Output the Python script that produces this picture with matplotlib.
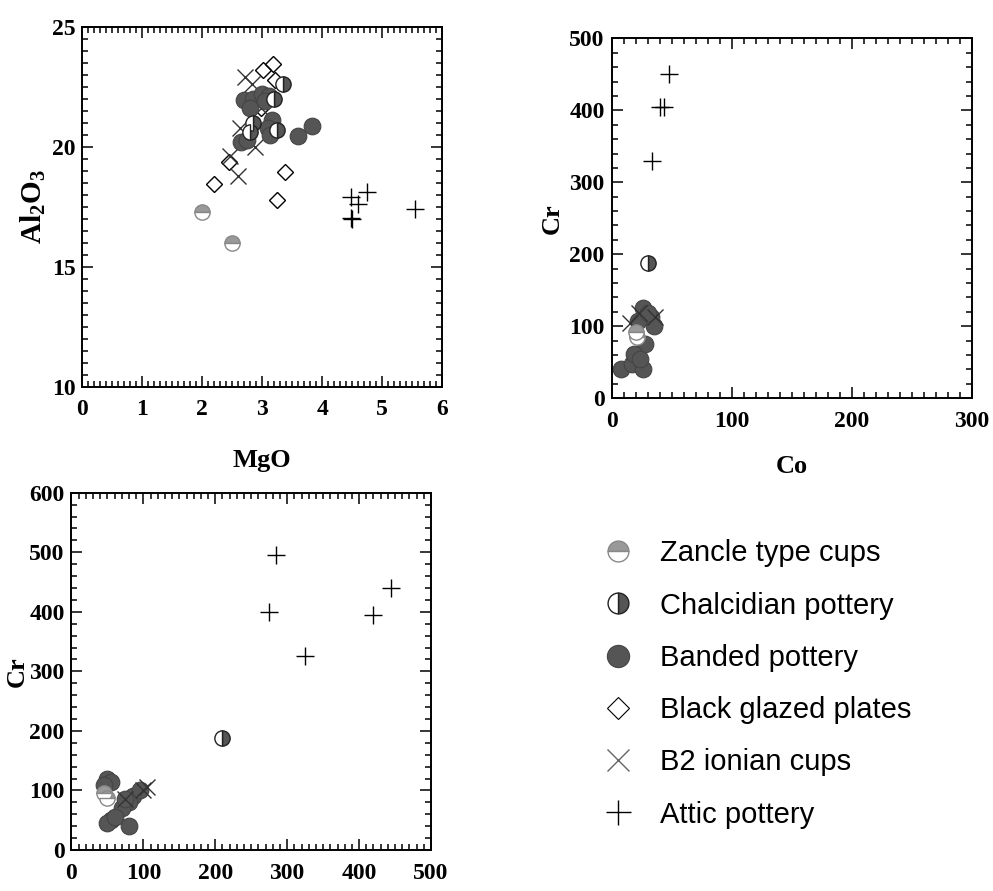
import numpy as np
import matplotlib
matplotlib.use("Agg")
import matplotlib.pyplot as plt
from matplotlib.ticker import MultipleLocator
from matplotlib.lines import Line2D

plt.rcParams['font.family'] = ['Liberation Serif', 'DejaVu Serif']
plt.rcParams['mathtext.fontset'] = 'custom'
plt.rcParams['mathtext.rm'] = 'Liberation Serif:bold'
plt.rcParams['mathtext.bf'] = 'Liberation Serif:bold'
plt.rcParams['mathtext.default'] = 'bf'

# Panel A: MgO vs Al2O3
zancle_mgo = [2.0, 2.5]
zancle_al = [17.3, 16.0]
chalc_mgo = [3.35, 3.2, 3.25, 2.85, 2.8]
chalc_al = [22.6, 22.0, 20.7, 21.0, 20.6]
banded_mgo = [2.7, 2.85, 3.0, 3.12, 2.65, 2.75, 3.17, 3.1, 3.13, 3.6, 3.83, 2.8, 3.05]
banded_al = [21.95, 22.0, 22.2, 22.1, 20.2, 20.3, 21.1, 20.8, 20.5, 20.45, 20.85, 21.6, 21.9]
plates_mgo = [3.02, 3.18, 3.22, 2.2, 2.44, 3.38, 3.24, 2.98]
plates_al = [23.2, 23.45, 22.8, 18.45, 19.35, 18.95, 17.8, 21.6]
b2_mgo = [2.72, 2.83, 2.63, 2.47, 2.6, 2.88, 2.98]
b2_al = [22.9, 22.6, 20.8, 19.6, 18.8, 20.0, 21.6]
attic_mgo = [4.48, 4.6, 4.75, 4.48, 4.5, 5.55]
attic_al = [17.9, 17.6, 18.1, 17.05, 17.0, 17.4]

# Panel B: Co vs Cr
zancle_co = [21, 20]
zancle_cr = [85, 92]
chalc_co = [30]
chalc_cr = [188]
banded_co = [26, 33, 35, 28, 8, 17, 26, 19, 22, 30, 24]
banded_cr = [125, 113, 100, 76, 40, 48, 40, 62, 108, 118, 55]
b2_co = [15, 36, 23]
b2_cr = [104, 113, 118]
attic_co = [48, 40, 44, 34]
attic_cr = [450, 405, 405, 330]

# Panel C: ? vs Cr
zancle_x = [45, 50]
zancle_y = [95, 88]
chalc_x = [210]
chalc_y = [188]
banded_x = [50, 55, 45, 85, 95, 80, 70, 55, 50, 60, 80, 75]
banded_y = [120, 115, 110, 90, 100, 80, 70, 50, 45, 55, 40, 85]
b2_x = [105, 100, 75]
b2_y = [105, 100, 85]
attic_x = [285, 275, 325, 420, 445]
attic_y = [495, 400, 325, 395, 440]

labels = ['Zancle type cups', 'Chalcidian pottery', 'Banded pottery',
          'Black glazed plates', 'B2 ionian cups', 'Attic pottery']

dark = '#555555'
styles = {
    'zancle': dict(marker='o', ms=11, fillstyle='top', mfc='#999999',
                   mfcalt='white', mec='#888888', mew=1.0, ls='none'),
    'chalc': dict(marker='o', ms=11, fillstyle='right', mfc=dark,
                  mfcalt='white', mec='#222222', mew=1.0, ls='none'),
    'banded': dict(marker='o', ms=12, mfc=dark, mec='#444444', mew=0.8, ls='none'),
    'plates': dict(marker='D', ms=8, mfc='none', mec='black', mew=1.0, ls='none'),
    'b2': dict(marker='x', ms=12, mec='#333333', mew=1.0, ls='none'),
    'attic': dict(marker='+', ms=13, mec='black', mew=1.0, ls='none'),
}

fig = plt.figure(figsize=(9.93, 8.91), dpi=100)


def style_axes(ax, xmaj, xmin, ymaj, ymin):
    ax.xaxis.set_major_locator(MultipleLocator(xmaj))
    ax.xaxis.set_minor_locator(MultipleLocator(xmin))
    ax.yaxis.set_major_locator(MultipleLocator(ymaj))
    ax.yaxis.set_minor_locator(MultipleLocator(ymin))
    ax.tick_params(which='both', direction='in', top=True, right=True,
                   labelsize=17, width=1.1)
    ax.tick_params(which='major', length=8)
    ax.tick_params(which='minor', length=4)
    ax.tick_params(axis='x', which='major', pad=9)
    ax.tick_params(axis='y', which='major', pad=5)
    for lab in ax.get_xticklabels() + ax.get_yticklabels():
        lab.set_fontweight('bold')
    for s in ax.spines.values():
        s.set_linewidth(1.4)


ax1 = fig.add_axes([0.083, 0.566, 0.362, 0.404])
ax1.plot(plates_mgo, plates_al, **styles['plates'])
ax1.plot(b2_mgo, b2_al, **styles['b2'])
ax1.plot(banded_mgo, banded_al, **styles['banded'])
ax1.plot(chalc_mgo, chalc_al, **styles['chalc'])
ax1.plot(zancle_mgo, zancle_al, **styles['zancle'])
ax1.plot(attic_mgo, attic_al, **styles['attic'])
ax1.set_xlim(0, 6)
ax1.set_ylim(10, 25)
style_axes(ax1, 1, 0.1, 5, 0.5)
ax1.set_xlabel('MgO', fontsize=19, fontweight='bold', labelpad=21)
ax1.set_ylabel('Al$_2$O$_3$', fontsize=21, fontweight='bold', labelpad=3)

ax2 = fig.add_axes([0.616, 0.553, 0.3625, 0.404])
ax2.plot(banded_co, banded_cr, **styles['banded'])
ax2.plot(b2_co, b2_cr, **styles['b2'])
ax2.plot(zancle_co, zancle_cr, **styles['zancle'])
ax2.plot(chalc_co, chalc_cr, **styles['chalc'])
ax2.plot(attic_co, attic_cr, **styles['attic'])
ax2.set_xlim(0, 300)
ax2.set_ylim(0, 500)
style_axes(ax2, 100, 10, 100, 20)
ax2.set_xlabel('Co', fontsize=19, fontweight='bold', labelpad=17)
ax2.set_ylabel('Cr', fontsize=19, fontweight='bold', labelpad=4)

ax3 = fig.add_axes([0.072, 0.046, 0.362, 0.401])
ax3.plot(banded_x, banded_y, **styles['banded'])
ax3.plot(b2_x, b2_y, **styles['b2'])
ax3.plot(zancle_x, zancle_y, **styles['zancle'])
ax3.plot(chalc_x, chalc_y, **styles['chalc'])
ax3.plot(attic_x, attic_y, **styles['attic'])
ax3.set_xlim(0, 500)
ax3.set_ylim(0, 600)
style_axes(ax3, 100, 10, 100, 20)
ax3.set_ylabel('Cr', fontsize=19, fontweight='bold', labelpad=0)

leg_styles = [dict(styles['zancle'], ms=15), dict(styles['chalc'], ms=15),
              dict(styles['banded'], ms=16), dict(styles['plates'], ms=11, mew=0.8),
              dict(styles['b2'], ms=16, mec='#666666'), dict(styles['attic'], ms=18)]
handles = [Line2D([], [], **st) for st in leg_styles]
fig.legend(handles, labels, loc='upper left', bbox_to_anchor=(0.581, 0.424),
           frameon=False, prop={'family': 'Liberation Sans', 'size': 21},
           labelspacing=0.83, handletextpad=0.95, handlelength=1.0)

fig.savefig('out.png', dpi=100)
